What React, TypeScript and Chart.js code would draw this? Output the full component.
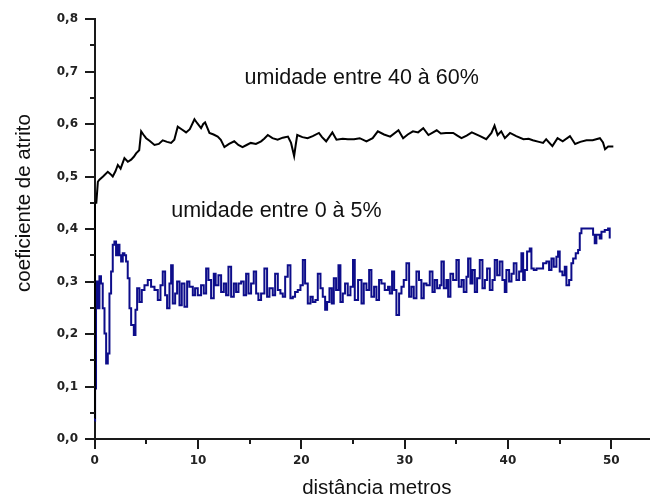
import React, { useEffect, useRef } from "react";
import { Chart, registerables } from "chart.js";

Chart.register(...registerables);

// humidity 40-60 % (black)
const humidDistance = [0, 0.02, 0.15, 0.3, 0.45, 0.8, 1.26, 1.5, 1.74, 2.0, 2.23, 2.5, 2.87, 3.2, 3.52, 3.8, 4.0, 4.3, 4.49, 4.7, 4.97, 5.3, 5.78, 6.2, 6.58, 7.0, 7.39, 7.7, 8.03, 8.4, 8.84, 9.2, 9.65, 9.9, 10.29, 10.5, 10.68, 11.1, 11.5, 11.9, 12.2, 12.55, 13.0, 13.5, 13.9, 14.3, 14.7, 15.1, 15.6, 16.1, 16.4, 16.75, 17.2, 17.7, 18.2, 18.7, 19.0, 19.3, 19.45, 19.6, 20.1, 20.6, 21.1, 21.7, 22.0, 22.4, 23.0, 23.4, 24.0, 24.5, 25.1, 25.65, 26.3, 26.9, 27.4, 28.0, 28.6, 29.4, 29.85, 30.3, 30.8, 31.3, 31.8, 32.3, 33.1, 33.5, 34.0, 34.7, 35.1, 35.5, 36.0, 36.5, 37.3, 37.9, 38.4, 38.7, 39.0, 39.35, 39.7, 40.2, 40.8, 41.5, 42.0, 42.4, 43.0, 43.4, 43.7, 44.3, 44.8, 45.3, 46.0, 46.5, 47.0, 47.6, 48.2, 48.9, 49.2, 49.4, 49.7, 50.2];
const humidFriction = [0.04, 0.45, 0.45, 0.49, 0.494, 0.5, 0.509, 0.505, 0.5, 0.51, 0.522, 0.515, 0.535, 0.528, 0.532, 0.538, 0.544, 0.55, 0.586, 0.58, 0.573, 0.568, 0.56, 0.562, 0.569, 0.566, 0.564, 0.57, 0.595, 0.59, 0.584, 0.59, 0.609, 0.602, 0.592, 0.6, 0.603, 0.583, 0.58, 0.576, 0.57, 0.556, 0.562, 0.567, 0.56, 0.556, 0.56, 0.564, 0.562, 0.567, 0.572, 0.579, 0.573, 0.57, 0.574, 0.576, 0.564, 0.539, 0.56, 0.579, 0.575, 0.573, 0.577, 0.583, 0.575, 0.567, 0.584, 0.57, 0.572, 0.571, 0.571, 0.573, 0.567, 0.573, 0.586, 0.58, 0.576, 0.588, 0.573, 0.58, 0.586, 0.584, 0.592, 0.579, 0.588, 0.582, 0.583, 0.583, 0.578, 0.573, 0.578, 0.584, 0.577, 0.571, 0.583, 0.597, 0.579, 0.586, 0.573, 0.583, 0.577, 0.571, 0.572, 0.569, 0.566, 0.564, 0.571, 0.558, 0.573, 0.567, 0.577, 0.562, 0.566, 0.569, 0.569, 0.573, 0.565, 0.552, 0.557, 0.557];

// humidity 0-5 % (blue)
const dryDistance = [0, 0.03, 0.12, 0.29, 0.45, 0.6, 0.77, 0.94, 1.1, 1.26, 1.42, 1.58, 1.74, 1.9, 2.06, 2.23, 2.39, 2.55, 2.71, 2.87, 3.03, 3.19, 3.36, 3.52, 3.78, 3.94, 4.1, 4.32, 4.55, 4.81, 5.13, 5.45, 5.78, 6.1, 6.36, 6.58, 6.81, 7.0, 7.23, 7.39, 7.55, 7.78, 7.97, 8.2, 8.42, 8.68, 8.94, 9.16, 9.49, 9.71, 9.97, 10.29, 10.55, 10.78, 11.0, 11.26, 11.52, 11.7, 11.97, 12.23, 12.49, 12.71, 12.94, 13.2, 13.46, 13.68, 13.91, 14.17, 14.42, 14.65, 14.88, 15.13, 15.39, 15.62, 15.84, 16.1, 16.42, 16.68, 16.91, 17.23, 17.46, 17.72, 17.97, 18.2, 18.43, 18.68, 18.94, 19.17, 19.39, 19.65, 19.91, 20.14, 20.36, 20.62, 20.88, 21.1, 21.36, 21.59, 21.85, 22.07, 22.3, 22.49, 22.72, 22.94, 23.14, 23.36, 23.59, 23.78, 24.01, 24.23, 24.49, 24.75, 25.0, 25.17, 25.49, 25.82, 26.04, 26.3, 26.56, 26.78, 27.04, 27.27, 27.52, 27.75, 28.07, 28.39, 28.56, 28.78, 28.98, 29.2, 29.46, 29.69, 29.91, 30.17, 30.43, 30.65, 30.88, 31.14, 31.39, 31.62, 31.85, 32.11, 32.43, 32.69, 32.91, 33.14, 33.4, 33.56, 33.79, 34.04, 34.21, 34.43, 34.69, 35.01, 35.24, 35.5, 35.72, 35.98, 36.14, 36.37, 36.56, 36.79, 37.01, 37.27, 37.53, 37.76, 37.98, 38.24, 38.5, 38.72, 38.95, 39.2, 39.46, 39.69, 39.85, 40.11, 40.34, 40.56, 40.82, 41.08, 41.3, 41.47, 41.63, 41.85, 42.11, 42.27, 42.5, 42.76, 43.08, 43.4, 43.72, 43.98, 44.21, 44.43, 44.69, 44.85, 45.01, 45.27, 45.5, 45.66, 45.92, 46.14, 46.31, 46.56, 46.79, 46.95, 47.11, 47.43, 47.76, 48.24, 48.4, 48.56, 48.88, 49.05, 49.37, 49.69, 49.85];
const dryFriction = [0.035, 0.096, 0.3, 0.249, 0.31, 0.296, 0.249, 0.201, 0.144, 0.163, 0.277, 0.319, 0.37, 0.376, 0.35, 0.37, 0.35, 0.338, 0.354, 0.35, 0.338, 0.306, 0.249, 0.217, 0.198, 0.246, 0.287, 0.261, 0.284, 0.293, 0.303, 0.29, 0.284, 0.265, 0.293, 0.319, 0.274, 0.249, 0.296, 0.331, 0.258, 0.277, 0.3, 0.255, 0.296, 0.252, 0.3, 0.29, 0.274, 0.287, 0.274, 0.293, 0.277, 0.325, 0.303, 0.268, 0.315, 0.293, 0.312, 0.28, 0.296, 0.274, 0.328, 0.271, 0.296, 0.28, 0.296, 0.3, 0.274, 0.315, 0.277, 0.296, 0.319, 0.277, 0.265, 0.277, 0.325, 0.271, 0.287, 0.274, 0.315, 0.284, 0.277, 0.271, 0.309, 0.331, 0.268, 0.271, 0.28, 0.284, 0.293, 0.341, 0.296, 0.258, 0.271, 0.261, 0.265, 0.315, 0.287, 0.271, 0.246, 0.261, 0.287, 0.258, 0.306, 0.284, 0.331, 0.261, 0.277, 0.296, 0.274, 0.29, 0.341, 0.265, 0.303, 0.258, 0.296, 0.284, 0.322, 0.271, 0.29, 0.265, 0.303, 0.296, 0.284, 0.29, 0.277, 0.319, 0.284, 0.236, 0.277, 0.29, 0.303, 0.335, 0.271, 0.29, 0.268, 0.319, 0.303, 0.268, 0.296, 0.293, 0.319, 0.28, 0.303, 0.287, 0.293, 0.338, 0.287, 0.303, 0.271, 0.315, 0.303, 0.341, 0.29, 0.303, 0.28, 0.309, 0.344, 0.296, 0.322, 0.28, 0.306, 0.341, 0.287, 0.303, 0.325, 0.284, 0.303, 0.341, 0.312, 0.338, 0.303, 0.28, 0.322, 0.3, 0.315, 0.335, 0.303, 0.319, 0.354, 0.303, 0.322, 0.357, 0.363, 0.325, 0.322, 0.325, 0.325, 0.335, 0.338, 0.322, 0.344, 0.328, 0.347, 0.357, 0.319, 0.312, 0.328, 0.293, 0.303, 0.335, 0.344, 0.354, 0.36, 0.392, 0.401, 0.401, 0.401, 0.389, 0.373, 0.389, 0.382, 0.395, 0.398, 0.401, 0.382];

const xMajorTicks = [0, 10, 20, 30, 40, 50];
const xMinorTicks = [5, 15, 25, 35, 45];
const yMajorTicks = [0, 0.1, 0.2, 0.3, 0.4, 0.5, 0.6, 0.7, 0.8];
const yMinorTicks = [0.05, 0.15, 0.25, 0.35, 0.45, 0.55, 0.65, 0.75];
const yTickLabels = ["0,0", "0,1", "0,2", "0,3", "0,4", "0,5", "0,6", "0,7", "0,8"];

const xTitle = "distância metros";
const yTitle = "coeficiente de atrito";
const annotationTexts = ["umidade entre 40 à 60%", "umidade entre 0 à 5%"];
const annotationX = [14.5, 7.4];
const annotationY = [0.688, 0.434];

const X_MIN = -0.85;
const X_MAX = 53.75;
const Y_MIN = 0;
const Y_MAX = 0.8;

const TEXT_FONT = '"Liberation Sans", Arial, sans-serif';
const TICK_FONT = '"DejaVu Sans", sans-serif';
const AXIS_COLOR = "#1a1a1a";

const decorPlugin = {
  id: "decor",
  afterDraw(chart: any) {
    const { ctx, scales, chartArea } = chart;
    const xs = scales.x;
    const ys = scales.y;
    const x0 = Math.round(xs.getPixelForValue(0));
    const y0 = Math.round(ys.getPixelForValue(0));
    ctx.save();
    ctx.strokeStyle = AXIS_COLOR;
    ctx.lineWidth = 2;
    ctx.beginPath();
    yMajorTicks.forEach((v) => {
      const p = Math.round(ys.getPixelForValue(v));
      ctx.moveTo(x0 - 10, p);
      ctx.lineTo(x0, p);
    });
    yMinorTicks.forEach((v) => {
      const p = Math.round(ys.getPixelForValue(v));
      ctx.moveTo(x0 - 5, p);
      ctx.lineTo(x0, p);
    });
    xMajorTicks.forEach((v) => {
      const p = Math.round(xs.getPixelForValue(v));
      ctx.moveTo(p, y0);
      ctx.lineTo(p, y0 + 10);
    });
    xMinorTicks.forEach((v) => {
      const p = Math.round(xs.getPixelForValue(v));
      ctx.moveTo(p, y0);
      ctx.lineTo(p, y0 + 5);
    });
    ctx.stroke();

    // y tick labels
    ctx.fillStyle = "#222";
    ctx.font = `bold 12px ${TICK_FONT}`;
    ctx.textAlign = "right";
    ctx.textBaseline = "middle";
    yMajorTicks.forEach((v, i) => {
      ctx.fillText(yTickLabels[i], x0 - 17, ys.getPixelForValue(v));
    });

    // annotations
    ctx.fillStyle = "#111";
    ctx.font = `21.5px ${TEXT_FONT}`;
    ctx.textAlign = "left";
    ctx.textBaseline = "middle";
    annotationTexts.forEach((t, i) => {
      ctx.fillText(t, xs.getPixelForValue(annotationX[i]), ys.getPixelForValue(annotationY[i]));
    });

    // axis titles
    ctx.font = `20.5px ${TEXT_FONT}`;
    ctx.textAlign = "center";
    ctx.textBaseline = "alphabetic";
    ctx.fillText(xTitle, xs.getPixelForValue(27.3), chartArea.bottom + 55);

    ctx.translate(24, (chartArea.top + chartArea.bottom) / 2 - 26);
    ctx.rotate(-Math.PI / 2);
    ctx.textBaseline = "middle";
    ctx.fillText(yTitle, 0, 0);
    ctx.restore();
  },
};

export default function App() {
  const canvasRef = useRef<HTMLCanvasElement | null>(null);

  useEffect(() => {
    const canvas = canvasRef.current;
    if (!canvas) return;
    const humidData = humidDistance.map((x, i) => ({ x, y: humidFriction[i] }));
    const dryData = dryDistance.map((x, i) => ({ x, y: dryFriction[i] }));

    const chart = new Chart(canvas, {
      type: "line",
      data: {
        datasets: [
          {
            label: "umidade entre 40 à 60%",
            data: humidData,
            borderColor: "#000000",
            borderWidth: 2,
            pointRadius: 0,
            tension: 0,
          },
          {
            label: "umidade entre 0 à 5%",
            data: dryData,
            borderColor: "#0d0d8a",
            borderWidth: 2,
            pointRadius: 0,
            tension: 0,
            stepped: true,
          },
        ],
      },
      options: {
        animation: false,
        responsive: false,
        maintainAspectRatio: false,
        events: [],
        layout: { padding: { left: 86, top: 19, right: 0, bottom: 63 } },
        plugins: {
          legend: { display: false },
          tooltip: { enabled: false },
          title: { display: false },
        },
        scales: {
          x: {
            type: "linear",
            min: X_MIN,
            max: X_MAX,
            position: { y: 0 } as any,
            grid: { display: false, drawTicks: true, tickLength: 10 },
            border: { display: true, color: AXIS_COLOR, width: 2 },
            afterBuildTicks: (scale: any) => {
              scale.ticks = xMajorTicks.map((v) => ({ value: v }));
            },
            ticks: {
              padding: 5,
              color: "#222",
              maxRotation: 0,
              autoSkip: false,
              font: { family: TICK_FONT, size: 12, weight: "bold" },
              callback: (v: any) => String(v),
            },
          },
          y: {
            type: "linear",
            min: Y_MIN,
            max: Y_MAX,
            position: { x: 0 } as any,
            grid: { display: false, drawTicks: false },
            border: { display: true, color: AXIS_COLOR, width: 2 },
            afterBuildTicks: (scale: any) => {
              scale.ticks = yMajorTicks.map((v) => ({ value: v }));
            },
            ticks: { display: false },
          },
        },
      },
      plugins: [decorPlugin],
    });
    return () => chart.destroy();
  }, []);

  return (
    <div style={{ position: "absolute", left: 0, top: 0, width: 650, height: 502, background: "#fff" }}>
      <canvas ref={canvasRef} width={650} height={502} style={{ display: "block", width: 650, height: 502 }} />
    </div>
  );
}
